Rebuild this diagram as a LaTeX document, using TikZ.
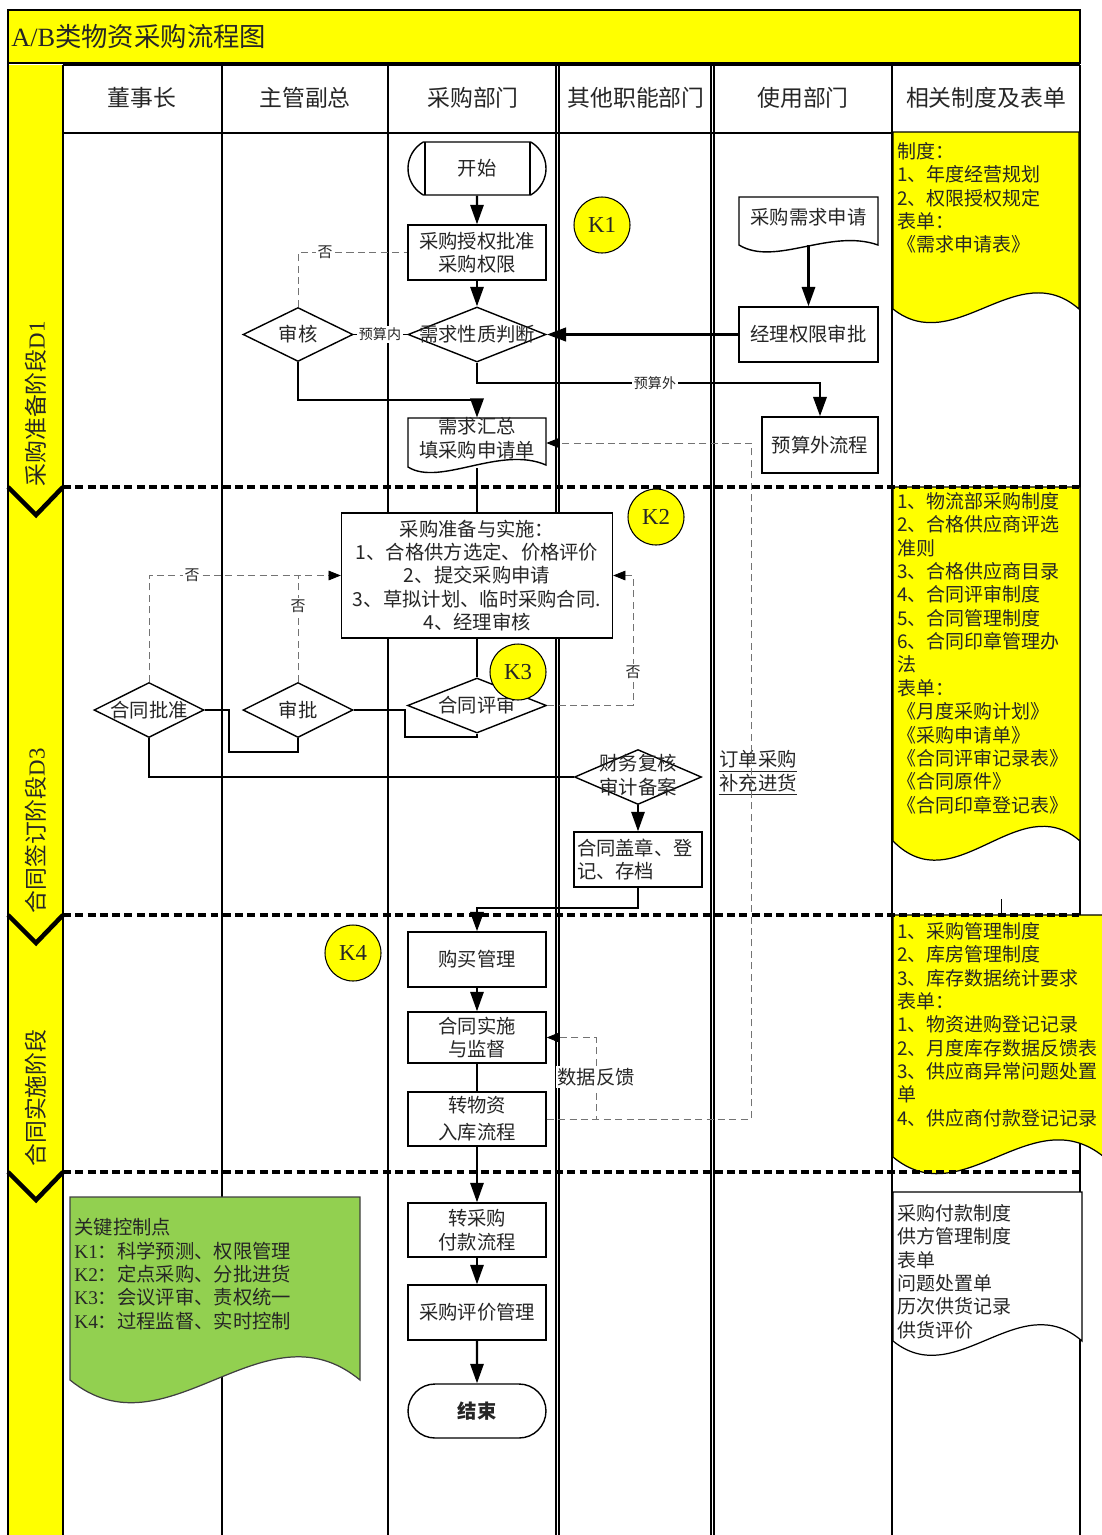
\documentclass[tikz,border=0pt]{standalone}
\usepackage{fontspec}
\setmainfont{Noto Sans CJK SC}
\newfontfamily\lat{Liberation Serif}
\usetikzlibrary{shapes.geometric,shapes.misc,arrows.meta,calc}
\definecolor{ylw}{RGB}{255,255,0}
\definecolor{grn}{RGB}{146,208,80}
\begin{document}
\begin{tikzpicture}[x=0.02cm,y=-0.02cm,
 font=\fontsize{11pt}{13.3pt}\selectfont, text=black!85,
 box/.style={draw, line width=0.8pt, fill=white, rectangle, inner sep=0pt, align=center},
 dia/.style={draw, line width=0.8pt, fill=white, diamond, inner sep=0pt},
 term/.style={draw, line width=0.8pt, fill=white, rounded rectangle, inner sep=0pt},
 kc/.style={draw, line width=0.6pt, fill=ylw, circle, minimum size=1.12cm, inner sep=0pt, font=\lat\fontsize{13pt}{13pt}\selectfont},
 tip/.style={-{Triangle[length=11pt,width=7.5pt]}},
 flow/.style={line width=1.2pt, tip},
 route/.style={line width=1.6pt},
 dsh/.style={line width=0.5pt, draw=black!55, dash pattern=on 4pt off 2.5pt},
 dsharrow/.style={dsh, -{Triangle[length=7pt,width=5.5pt,color=black]}},
 lbl/.style={fill=white, inner sep=1pt, font=\fontsize{8pt}{9pt}\selectfont},
 col/.style={line width=0.7pt},
 sep/.style={line width=2.6pt, dash pattern=on 4.5pt off 2.5pt},
 chev/.style={line width=2.6pt},
 doctext/.style={anchor=north west, inner sep=0pt, align=left, font=\fontsize{10.8pt}{13.3pt}\selectfont},
 head/.style={font=\fontsize{13pt}{13pt}\selectfont},
 phase/.style={rotate=90, font=\fontsize{13pt}{13pt}\selectfont},
]
\useasboundingbox (0,0) rectangle (1102,1535);

% title bar
\draw[line width=0.8pt, fill=ylw] (8,10) rectangle (1080,63);
\node[anchor=west, inner sep=0pt, font=\fontsize{15pt}{15pt}\selectfont] (title) at (11,37) {{\lat A/B}类物资采购流程图};

% phase band and table
\fill[ylw] (8,65) rectangle (63,1535);
\draw[col] (8,63) -- (8,1535);
\draw[col] (63,65) -- (63,1535);
\draw[col] (63,65) -- (1080,65);
\draw[col] (63,133) -- (892,133);
\foreach \cx in {222,388,556,559,711,714,892,1080} \draw[col] (\cx,65) -- (\cx,1535);

\node[head] (h1) at (142,98) {董事长};
\node[head] (h2) at (305,98) {主管副总};
\node[head] (h3) at (473,98) {采购部门};
\node[head] (h4) at (636,98) {其他职能部门};
\node[head] (h5) at (803,98) {使用部门};
\node[head] (h6) at (986,98) {相关制度及表单};

\node[phase] (ph1) at (36,404) {采购准备阶段{\lat D1}};
\node[phase] (ph2) at (36,831) {合同签订阶段{\lat D3}};
\node[phase] (ph3) at (36,1098) {合同实施阶段};

% right-hand documents
\draw[line width=0.7pt, fill=ylw] (893,132) -- (1079,132) -- (1079,309) .. controls (1017,255) and (955,358) .. (893,309) -- cycle;
\node[doctext] (d1t) at (897,142) {制度：\\1、年度经营规划\\2、权限授权规定\\表单：\\《需求申请表》};

\draw[line width=0.7pt, fill=ylw] (893,487) -- (1080,487) -- (1080,841) .. controls (1018,787) and (955,904) .. (893,841) -- cycle;
\node[doctext] (d2t) at (897,492) {1、物流部采购制度\\2、合格供应商评选\\准则\\3、合格供应商目录\\4、合同评审制度\\5、合同管理制度\\6、合同印章管理办\\法\\表单：\\《月度采购计划》\\《采购申请单》\\《合同评审记录表》\\《合同原件》\\《合同印章登记表》};
\draw[line width=0.4pt] (1001,899) -- (1001,913);

\draw[line width=0.7pt, fill=ylw] (893,915) -- (1104,915) -- (1104,1157) .. controls (1032,1098) and (963,1215) .. (893,1157) -- cycle;
\node[doctext] (d3t) at (897,922) {1、采购管理制度\\2、库房管理制度\\3、库存数据统计要求\\表单：\\1、物资进购登记记录\\2、月度库存数据反馈表\\3、供应商异常问题处置\\单\\4、供应商付款登记记录};

\draw[line width=0.7pt, fill=white] (893,1192) -- (1082,1192) -- (1082,1341) .. controls (1019,1286) and (956,1392) .. (893,1341) -- cycle;
\node[doctext] (d4t) at (897,1204) {采购付款制度\\供方管理制度\\表单\\问题处置单\\历次供货记录\\供货评价};

% key control point document
\draw[line width=0.7pt, draw=black!75, fill=grn] (70,1197) -- (360,1197) -- (360,1380) .. controls (263,1300) and (167,1459) .. (70,1380) -- cycle;
\node[doctext, font=\fontsize{11pt}{13.3pt}\selectfont] (gt) at (74,1218) {关键控制点\\{\lat K1}：科学预测、权限管理\\{\lat K2}：定点采购、分批进货\\{\lat K3}：会议评审、责权统一\\{\lat K4}：过程监督、实时控制};

% phase separators
\foreach \sy in {487,915,1172} {
  \draw[sep] (63,\sy) -- (1083,\sy);
  \draw[chev] (8,\sy) -- (36,\sy+28) -- (63,\sy);
}

% documents in flow
\draw[line width=0.8pt, fill=white] (739,197) -- (878,197) -- (878,245) .. controls (830,228) and (775,267) .. (739,245) -- cycle;
\node[inner sep=0pt, minimum width=2.78cm, minimum height=0.96cm] (req) at (808.5,221) {};
\node (reqt) at (808.5,217) {采购需求申请};

\draw[line width=0.8pt, fill=white] (408,418) -- (546,418) -- (546,465) .. controls (500,445) and (440,487) .. (408,467) -- cycle;
\node[inner sep=0pt, minimum width=2.76cm, minimum height=1.0cm] (sum) at (477,443) {};
\node[align=center] (sumt) at (477,438) {需求汇总\\填采购申请单};

% flow nodes
\node[term, rounded rectangle arc length=120, minimum width=2.76cm, minimum height=1.06cm] (start) at (477,168.5) {开始};
\draw[line width=0.8pt] (425,142) -- (425,195) (530,142) -- (530,195);
\node[box, minimum width=2.76cm, minimum height=1.1cm] (auth) at (477,252.5) {采购授权批准\\采购权限};
\node[dia, minimum width=2.76cm, minimum height=1.1cm] (judge) at (477,334.5) {};
\node (judget) at (477,334.5) {需求性质判断};
\node[dia, minimum width=2.2cm, minimum height=1.08cm] (audit) at (298,334.5) {};
\node (auditt) at (298,334.5) {审核};
\node[box, minimum width=2.78cm, minimum height=1.1cm] (mgr) at (808.5,334.5) {经理权限审批};
\node[box, minimum width=2.32cm, minimum height=1.12cm] (extra) at (820,445) {预算外流程};

\node[box, minimum width=5.42cm, minimum height=2.5cm] (prep) at (477,575.5) {采购准备与实施：\\1、合格供方选定、价格评价\\2、提交采购申请\\3、草拟计划、临时采购合同.\\4、经理审核};

\node[dia, minimum width=2.2cm, minimum height=1.1cm] (ratify) at (149,710) {};
\node (ratifyt) at (149,710) {合同批准};
\node[dia, minimum width=2.2cm, minimum height=1.1cm] (approve) at (298,710) {};
\node (approvet) at (298,710) {审批};
\node[dia, minimum width=2.78cm, minimum height=1.1cm] (review) at (477,705.5) {};
\node (reviewt) at (477,705.5) {合同评审};
\node[dia, minimum width=2.54cm, minimum height=1.1cm] (fin) at (638,777) {};
\node[align=center] (fint) at (638,775) {财务复核\\审计备案};
\node[box, minimum width=2.56cm, minimum height=1.1cm, align=left, text width=2.44cm] (seal) at (638,859.5) {合同盖章、登\\记、存档};
\node[align=left, fill=white, inner sep=1pt] (order) at (758,773) {\underline{订单采购}\\\underline{补充进货}};

\node[box, minimum width=2.76cm, minimum height=1.1cm] (buy) at (477,959.5) {购买管理};
\node[box, minimum width=2.76cm, minimum height=1.02cm] (impl) at (477,1037.5) {合同实施\\与监督};
\node[box, minimum width=2.76cm, minimum height=1.08cm] (store) at (477,1119) {转物资\\[2pt]入库流程};
\node[box, minimum width=2.76cm, minimum height=1.08cm] (pay) at (477,1230) {转采购\\付款流程};
\node[box, minimum width=2.76cm, minimum height=1.1cm] (eval) at (477,1312.5) {采购评价管理};
\node[term, minimum width=2.76cm, minimum height=1.08cm, font=\bfseries\fontsize{11pt}{13pt}\selectfont] (end) at (477,1411) {结束};

% connectors
\draw[flow] (start) -- (auth);
\draw[flow] (auth) -- (judge);
\draw[tip, line width=2pt] (mgr.west) -- (judge.east);
\draw[flow, line width=1.5pt] (req.south) -- (mgr.north);
\draw[line width=0.6pt] (audit.east) -- (judge.west);
\draw[dsh] (audit.north) |- (auth.west);
\draw[route, tip] (audit.south) -- (298,400) -- (477,400) -- (sum.north);
\draw[route, tip] (judge.south) -- (477,383) -- (820,383) -- (extra.north);
\draw[dsharrow] (store.east) -- (751,1119) -- (751,443) -- (sum.east);
\draw[line width=1.2pt] (sum.south) -- (prep.north);
\draw[line width=1.2pt] (prep.south) -- (review.north);
\draw[dsharrow] (review.east) -- (633,705.5) -- (633,575.5) -- (prep.east);
\draw[route] (approve.east) -- (405,710) -- (405,737) -- (477,737) -- (review.south);
\draw[dsh] (approve.north) -- (298,575.5);
\draw[dsharrow] (ratify.north) -- (149,575.5) -- (prep.west);
\draw[route] (ratify.east) -- (229,710) -- (229,752) -- (298,752) -- (approve.south);
\draw[route] (ratify.south) -- (149,777) -- (fin.west);
\draw[flow] (fin.south) -- (seal.north);
\draw[route, tip] (seal.south) -- (638,908) -- (477,908) -- (buy.north);
\draw[flow] (buy) -- (impl);
\draw[line width=1.2pt] (impl) -- (store);
\draw[dsharrow] (store.east) -- (596,1119) -- (596,1037.5) -- (impl.east);
\draw[flow] (store) -- (pay);
\draw[flow] (pay) -- (eval);
\draw[flow] (eval) -- (end);

% connector labels
\node[lbl] (lin) at (380,334.5) {预算内};
\node[lbl] (lout) at (655,383) {预算外};
\node[lbl, font=\fontsize{8.5pt}{9pt}\selectfont] (no1) at (325,252.5) {否};
\node[lbl, font=\fontsize{8.5pt}{9pt}\selectfont] (no2) at (192,575.5) {否};
\node[lbl, font=\fontsize{8.5pt}{9pt}\selectfont] (no3) at (298,606) {否};
\node[lbl, font=\fontsize{8.5pt}{9pt}\selectfont] (no4) at (633,672) {否};
\node[fill=white, inner sep=1pt] (fb) at (596,1077) {数据反馈};

% key control circles
\node[kc] (k1) at (602,225) {K1};
\node[kc] (k2) at (656,517) {K2};
\node[kc] (k3) at (518,672) {K3};
\node[kc] (k4) at (353,953) {K4};
\end{tikzpicture}
\end{document}
